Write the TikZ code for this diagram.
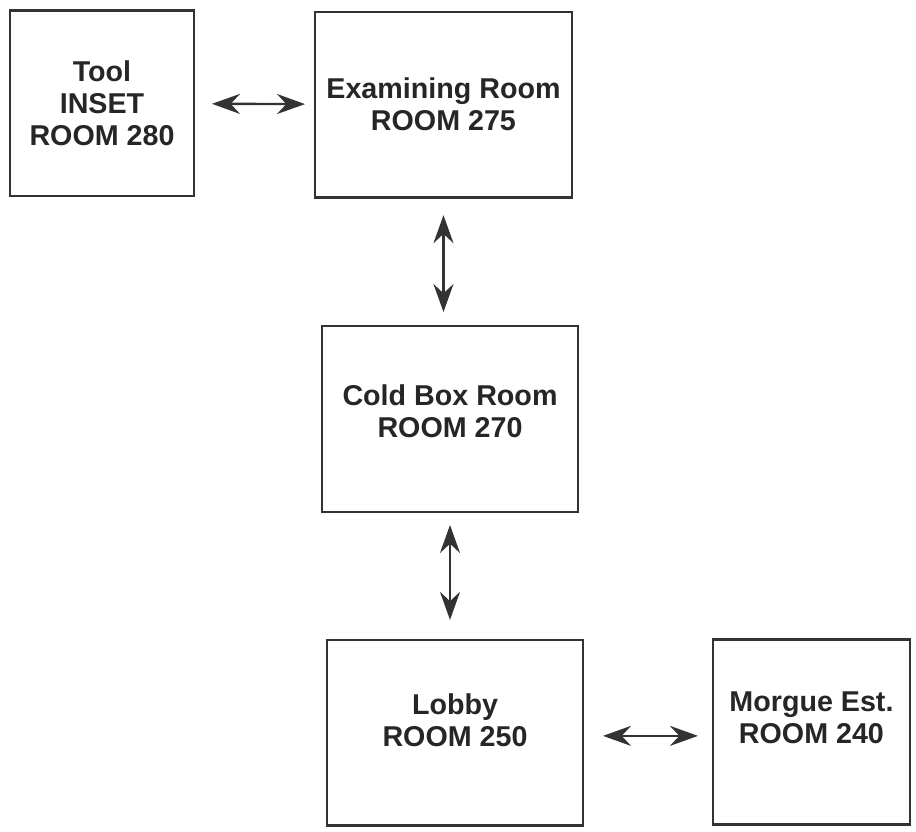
\documentclass[tikz,border=0pt]{standalone}
\usepackage{fontspec}
\newfontfamily\roomfont{Liberation Sans}
\usetikzlibrary{arrows.meta}
\definecolor{ink}{HTML}{333333}

\begin{document}
\begin{tikzpicture}[<->,>={Stealth[length=21pt,width=15pt,inset=7pt]},line width=1.8pt,
x=1pt,y=1pt,every edge/.style={draw=ink},
room/.style={draw=ink,line width=2pt,align=center,minimum height=139pt,text=black!85,
font=\roomfont\bfseries\fontsize{21.5pt}{24pt}\selectfont}]

\useasboundingbox (0,0) rectangle (687,-623.25);

\node[room,minimum width=138pt] (tool) at (76.5,-77.6) {Tool\\INSET\\ROOM 280};
\node[room,minimum width=192.75pt] (exam) at (332.6,-78.4) {Examining Room\\ROOM 275};
\node[room,minimum width=192pt,minimum height=139.5pt,text depth=12pt] (cold) at (337.5,-314.25) {Cold Box Room\\ROOM 270};
\node[room,minimum width=192pt,text depth=18pt] (lobby) at (341.25,-549.4) {Lobby\\ROOM 250};
\node[room,minimum width=147.75pt,text depth=22pt] (morgue) at (608.6,-549) {Morgue Est.\\ROOM 240};

\path (tool) edge[shorten <=12.5pt,shorten >=6.5pt] (exam)
(exam.south) edge[shorten <=12.5pt,shorten >=9.5pt] (exam.south |- cold.north)
(cold.south) edge[shorten <=8.75pt,shorten >=14pt] (cold.south |- lobby.north)
([yshift=-2.5pt]lobby.east) edge[shorten <=14pt,shorten >=10.25pt] ([yshift=-2.5pt]lobby.east -| morgue.west)
;
\end{tikzpicture}
\end{document}
